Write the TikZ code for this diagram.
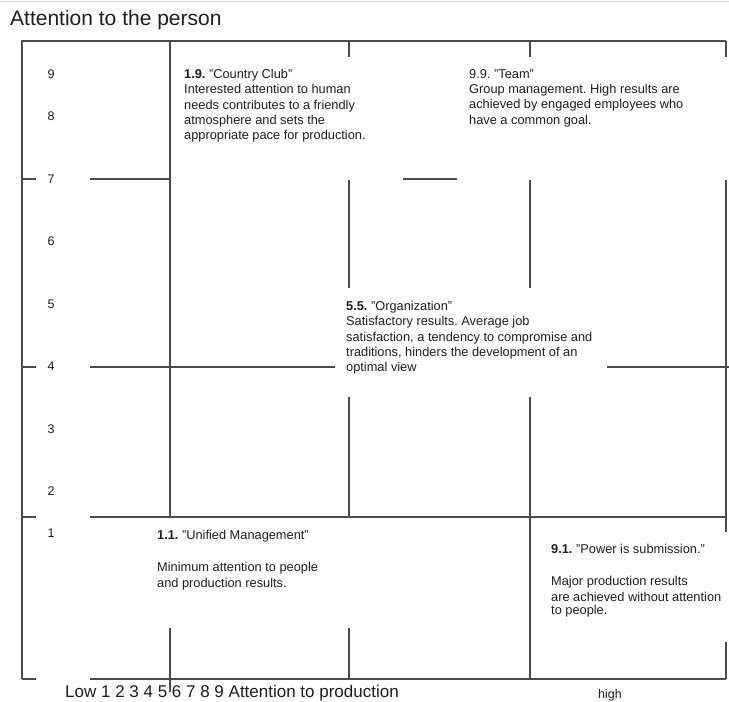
\documentclass[tikz,border=0pt]{standalone}
\usepackage{fontspec}
\setmainfont{Liberation Sans}
\usepackage{xcolor}
\usetikzlibrary{positioning}
\frenchspacing
\definecolor{gridgray}{RGB}{75,75,75}
\definecolor{rulegray}{RGB}{215,215,215}
\definecolor{textgray}{RGB}{30,30,30}
\tikzset{
  gridline/.style={draw=gridgray, line width=1.3pt},
  blocktext/.style={anchor=north west, inner sep=0pt, align=left, text=textgray,
                    font=\fontsize{12.8}{15.3}\selectfont},
  axisnum/.style={inner sep=0pt, text=textgray, font=\fontsize{12.5}{15}\selectfont},
}
\newcommand{\lefttick}[1]{\draw[gridline] (22,#1) -- (36,#1);}

\begin{document}
\begin{tikzpicture}[x=1pt, y=-1pt]
\useasboundingbox (0,0) rectangle (729,702);

% thin rule at the top
\draw[rulegray, line width=1pt] (0,1.5) -- (729,1.5);

\node[anchor=base west, inner sep=0pt, text=textgray, font=\fontsize{21}{25}\selectfont]
  (title) at (10,25) {Attention to the person};

% frame
\draw[gridline] (22,679) -- (22,41) -- (726,41);

% horizontal lines
\foreach \y in {179,367,517,679}
  \lefttick{\y}
\draw[gridline] (90,179) -- (171,179);
\draw[gridline] (403,179) -- (457,179);
\draw[gridline] (90,367) -- (335,367);
\draw[gridline] (607,367) -- (729,367);
\draw[gridline] (90,517) -- (726,517);
\draw[gridline] (90,679) -- (726,679);

% vertical lines
\draw[gridline] (170,41) -- (170,517);
\draw[gridline] (170,628) -- (170,692);

\draw[gridline] (349,41) -- (349,57);
\draw[gridline] (349,180) -- (349,288);
\draw[gridline] (349,397) -- (349,517);
\draw[gridline] (349,628) -- (349,679);

\draw[gridline] (530,41) -- (530,57);
\draw[gridline] (530,180) -- (530,288);
\draw[gridline] (530,397) -- (530,679);

\draw[gridline] (726,41) -- (726,57);
\draw[gridline] (726,180) -- (726,532);
\draw[gridline] (726,642) -- (726,679);

% scale of the person axis
\foreach \n/\y in {9/74,8/116,7/179,6/241,5/304,4/366,3/429,2/491,1/533}
  \node[axisnum] (num\n) at (51,\y) {\n};

% the five styles
\node[blocktext] (club) at (184,69) {\textbf{1.9.} "Country Club"\\
  Interested attention to human\\
  needs contributes to a friendly\\
  atmosphere and sets the\\
  appropriate pace for production.};

\node[blocktext] (team) at (469,69) {9.9. "Team"\\
  Group management. High results are\\
  achieved by engaged employees who\\
  have a common goal.};

\node[blocktext] (organization) at (346,301) {\textbf{5.5.} "Organization"\\
  Satisfactory results. Average job\\
  satisfaction, a tendency to compromise and\\
  traditions, hinders the development of an\\
  optimal view};

\node[blocktext] (unified) at (157,530) {\textbf{1.1.} "Unified Management"\\[17pt]
  Minimum attention to people\\
  and production results.};

\node[blocktext] (power) at (551,544) {\textbf{9.1.} "Power is submission."\\[17pt]
  Major production results\\
  are achieved without attention\\[-2pt]
  to people.};

% production axis
\node[anchor=base west, inner sep=0pt, text=textgray, font=\fontsize{17}{20}\selectfont]
  (prodaxis) at (65,697.5) {Low 1 2 3 4 5 6 7 8 9 Attention to production};
\node[anchor=base west, inner sep=0pt, text=textgray, font=\fontsize{12.5}{15}\selectfont]
  (high) at (598,698) {high};

\end{tikzpicture}
\end{document}
